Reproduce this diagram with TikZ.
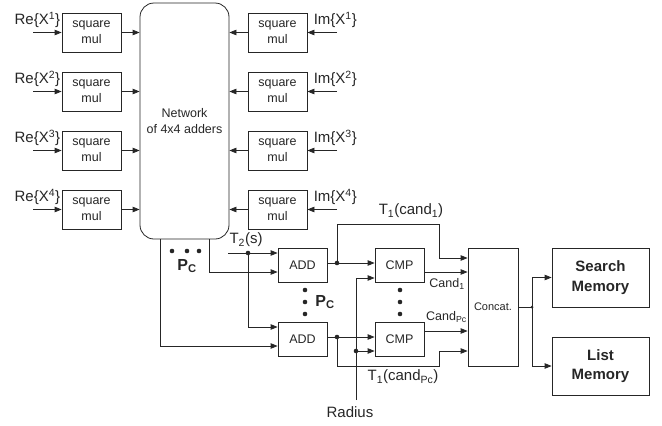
\documentclass[tikz,border=0pt]{standalone}
\usepackage{fontspec}
\setmainfont{Liberation Sans}
\usetikzlibrary{arrows.meta}

\begin{document}
\begin{tikzpicture}[x=1pt,y=-1pt,line width=0.8pt,color=black!85,
  >={Triangle[length=7pt,width=5.5pt]},
  box/.style={draw,inner sep=0pt,align=center,font=\fontsize{12.5}{16}\selectfont},
  mulbox/.style={box,minimum width=59pt,minimum height=39pt},
  opbox/.style={box,minimum width=49pt,minimum height=34pt},
  membox/.style={box,minimum width=97pt,minimum height=59pt,font=\fontsize{15}{19.5}\selectfont\bfseries},
  lbl/.style={inner sep=0pt,font=\fontsize{15}{18}\selectfont},
  small/.style={inner sep=0pt,font=\fontsize{12.5}{15}\selectfont},
  pc/.style={inner sep=0pt,font=\fontsize{16}{18}\selectfont\bfseries}]
\useasboundingbox (0,0) rectangle (662,426);
\node[mulbox,rounded corners=14pt,minimum width=89pt,minimum height=236pt] (net) at (184.5,121) {Network\\of 4x4 adders};
\foreach \i/\y in {1/32.5,2/91.5,3/150.5,4/209.5}{
  \node[mulbox] (re\i) at (91.5,\y) {square\\mul};
  \node[mulbox] (im\i) at (277.5,\y) {square\\mul};
  \coordinate (rein\i) at (33,\y);
  \coordinate (imin\i) at (337,\y);
  \node[lbl,anchor=east] (relbl\i) at ([shift={(-1,-12.5)}]re\i.west) {Re\{X\textsuperscript{\i}\}};
  \node[lbl,anchor=west] (imlbl\i) at ([shift={(6,-12.5)}]im\i.east) {Im\{X\textsuperscript{\i}\}};
  \draw[->] (rein\i) -- (re\i);
  \draw[->] (re\i) -- (net.west |- re\i);
  \draw[->] (imin\i) -- (im\i);
  \draw[->] (im\i) -- (net.east |- im\i);
}
\node[opbox] (add1) at (302.5,265) {ADD};
\node[opbox] (add2) at (302.5,339) {ADD};
\node[opbox] (cmp1) at (399.5,265) {CMP};
\node[opbox] (cmp2) at (399.5,339) {CMP};
\node[box,minimum width=50pt,minimum height=118pt,font=\fontsize{11}{13}\selectfont] (cat) at (493,307) {Concat.};
\node[membox] (srch) at (600.5,277.5) {Search\\Memory};
\node[membox,minimum height=58pt] (lst) at (600.5,366) {List\\Memory};
\coordinate (t2in) at (228,253);
\coordinate (t2j) at (248,253);
\coordinate (j1) at (337,263);
\coordinate (j2) at (337,337);
\coordinate (rad) at (356,400);
\coordinate (rj) at (356,351);
\coordinate (cj) at (532,307);
\coordinate (c1o) at ([shift={(0,7)}]cmp1.east);
\coordinate (c2o) at ([shift={(0,-8)}]cmp2.east);
\draw[->] (t2in) -- (add1.west |- t2in);
\draw[->] (t2j) |- ([shift={(0,-12)}]add2.west);
\draw[->] ([xshift=24.5pt]net.south) |- ([shift={(0,7)}]add1.west);
\draw[->] ([xshift=-24.5pt]net.south) |- ([shift={(0,7)}]add2.west);
\draw (add1.east |- j1) -- (j1);
\draw[->] (j1) -- (cmp1.west |- j1);
\draw[->] (j1) |- ++(102,-39) |- ([shift={(0,-49)}]cat.west);
\draw (add2.east |- j2) -- (j2);
\draw[->] (j2) -- (cmp2.west |- j2);
\draw[->] (j2) |- ++(102,29) |- ([shift={(0,44)}]cat.west);
\draw[->] (rad) |- ([shift={(0,13)}]cmp1.west);
\draw[->] (rj) -- (cmp2.west |- rj);
\draw[->] (c1o) -- (cat.west |- c1o);
\draw[->] (c2o) -- (cat.west |- c2o);
\draw (cat) -- (cj);
\draw[->] (cj) |- (srch);
\draw[->] (cj) |- (lst);
\foreach \p in {t2j,j1,j2,rj} \fill (\p) circle[radius=2.3pt];
\fill (cj) circle[radius=1.5pt];
\foreach \x in {172,187,199} \fill (\x,251) circle[radius=2.3pt];
\foreach \y in {290,302,314}{
  \fill (305,\y) circle[radius=2.3pt];
  \fill (400,\y) circle[radius=2.3pt];
}
\node[pc] (pc1) at (187,266) {P\textsubscript{C}};
\node[pc] (pc2) at (325,302) {P\textsubscript{C}};
\node[lbl] (t2lbl) at (246,240) {T\textsubscript{2}(s)};
\node[lbl] (t1lbl) at (411,211) {T\textsubscript{1}(cand\textsubscript{1})};
\node[lbl] (t1pclbl) at (403,377) {T\textsubscript{1}(cand\textsubscript{Pc})};
\node[small] (cand1) at (447,284) {Cand\textsubscript{1}};
\node[small] (candpc) at (446.5,317) {Cand\textsubscript{Pc}};
\node[lbl] (radlbl) at (350,412) {Radius};
\end{tikzpicture}
\end{document}
